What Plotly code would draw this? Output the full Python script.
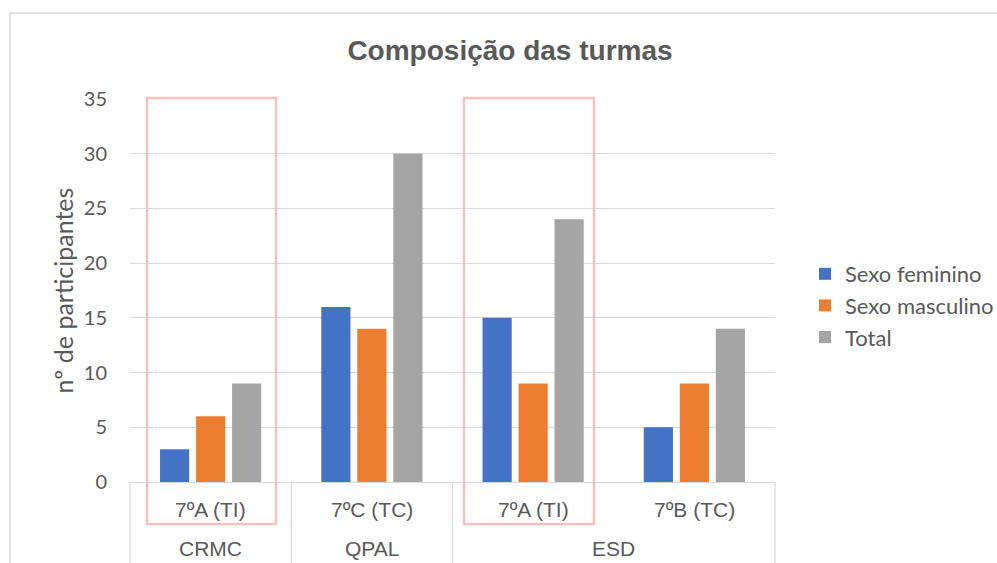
import plotly.graph_objects as go

# Class composition by school and class
schools = ["CRMC", "QPAL", "ESD", "ESD"]
classes = ["7ºA (TI)", "7ºC (TC)", "7ºA (TI)", "7ºB (TC)"]
female = [3, 16, 15, 5]
male = [6, 14, 9, 9]
total = [9, 30, 24, 14]

series_names = ["Sexo feminino", "Sexo masculino", "Total"]
series_colors = ["#4472C4", "#ED7D31", "#A5A5A5"]

W, H = 997, 563
L, R, T, B = 130, 775, 99, 482  # plot area in pixels

def px(x):
    return (x - L) / (R - L)

def py(y):
    return (B - y) / (B - T)

text_color = "#595959"
grid_color = "#D9D9D9"
n_cat = len(classes)

fig = go.Figure()
for name, vals, col in zip(series_names, [female, male, total], series_colors):
    fig.add_trace(go.Bar(x=[schools, classes], y=vals, name=name,
                         marker=dict(color=col, line=dict(width=0))))

shapes = []
# outer chart frame
shapes.append(dict(type="rect", xref="paper", yref="paper",
                   x0=px(10), x1=px(1010), y0=py(580), y1=py(13),
                   line=dict(color="#D9D9D9", width=1.5), layer="below"))

# school groups: spans of consecutive identical names
groups = []
for i, s in enumerate(schools):
    if groups and groups[-1][0] == s:
        groups[-1][2] = i + 1
    else:
        groups.append([s, i, i + 1])

# category axis separators at group boundaries
bounds = sorted({g[1] for g in groups} | {g[2] for g in groups})
for b in bounds:
    shapes.append(dict(type="line", xref="paper", yref="paper",
                       x0=b / n_cat, x1=b / n_cat, y0=py(482), y1=py(580),
                       line=dict(color=grid_color, width=1.2)))

# highlight boxes around the 7ºA (TI) classes
for x0, x1 in [(147, 276), (464, 594)]:
    shapes.append(dict(type="rect", xref="paper", yref="paper",
                       x0=px(x0), x1=px(x1), y0=py(524), y1=py(98),
                       line=dict(color="#F7C2BC", width=2.5)))

annotations = []
cat_font = dict(family="Liberation Sans, Arial", size=21, color=text_color)
for i, c in enumerate(classes):
    annotations.append(dict(text=c, xref="paper", yref="paper",
                            x=(i + 0.5) / n_cat, y=py(509), xanchor="center",
                            yanchor="middle", showarrow=False, font=cat_font))
for s, a, b in groups:
    annotations.append(dict(text=s, xref="paper", yref="paper",
                            x=(a + b) / 2 / n_cat, y=py(548), xanchor="center",
                            yanchor="middle", showarrow=False, font=cat_font))

fig.update_layout(
    width=W, height=H,
    margin=dict(l=L, r=W - R, t=T, b=H - B, autoexpand=False),
    paper_bgcolor="white", plot_bgcolor="white",
    barmode="group", bargap=0.33, bargroupgap=0.19,
    title=dict(text="<b>Composição das turmas</b>", x=px(510), xref="paper",
               xanchor="center", y=1 - 50 / H, yanchor="middle",
               font=dict(family="Liberation Sans, Arial", size=28, color=text_color)),
    font=dict(family="Liberation Sans, Arial", color=text_color),
    legend=dict(x=px(805), y=py(253), xanchor="left", yanchor="top",
                font=dict(family="Lato, Calibri", size=22, color=text_color),
                itemwidth=30, tracegroupgap=0, bgcolor="rgba(0,0,0,0)"),
    shapes=shapes,
    annotations=annotations,
)
fig.update_yaxes(range=[0, 35], dtick=5, showgrid=True, gridcolor=grid_color,
                 gridwidth=1.2, zeroline=False, showline=False,
                 ticks="", ticklabelstandoff=22,
                 tickfont=dict(family="Lato, Calibri", size=20, color=text_color),
                 title=dict(text="nº de participantes", standoff=3,
                            font=dict(family="Lato, Calibri", size=25, color=text_color)))
fig.update_xaxes(showline=True, linecolor=grid_color, linewidth=1.2,
                 showdividers=False, ticks="", showticklabels=False)

fig.write_html("out.html")
